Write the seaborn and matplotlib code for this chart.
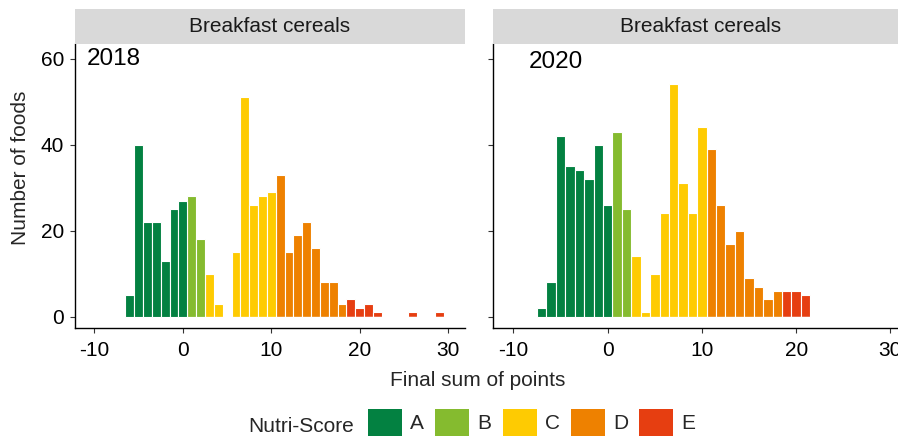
import matplotlib
matplotlib.use("Agg")
import matplotlib.pyplot as plt
import pandas as pd
import seaborn as sns
from matplotlib.patches import Patch

# ---------------- data ----------------
scores_2018 = [-6, -5, -4, -3, -2, -1, 0, 1, 2, 3, 4, 6, 7, 8, 9, 10, 11, 12, 13,
               14, 15, 16, 17, 18, 19, 20, 21, 22, 26, 29]
counts_2018 = [5, 40, 22, 22, 13, 25, 27, 28, 18, 10, 3, 15, 51, 26, 28, 29, 33, 15,
               19, 22, 16, 8, 8, 3, 4, 2, 3, 1, 1, 1]
grades_2018 = list("AAAAAAABBCCCCCCCDDDDDDDDEEEEEE")

scores_2020 = [-7, -6, -5, -4, -3, -2, -1, 0, 1, 2, 3, 4, 5, 6, 7, 8, 9, 10, 11,
               12, 13, 14, 15, 16, 17, 18, 19, 20, 21]
counts_2020 = [2, 8, 42, 35, 34, 32, 40, 26, 43, 25, 14, 1, 10, 24, 54, 31, 24, 44,
               39, 26, 17, 20, 9, 7, 4, 6, 6, 6, 5]
grades_2020 = list("AAAAAAAABBCCCCCCCCDDDDDDDDEEE")

grade_levels = ["A", "B", "C", "D", "E"]
grade_colors = ["#038141", "#85BB2F", "#FECB02", "#EE8100", "#E63E11"]
panel_years = ["2018", "2020"]
strip_label = "Breakfast cereals"
x_ticks = [-10, 0, 10, 20, 30]
y_ticks = [0, 20, 40, 60]
legend_title = "Nutri-Score"
x_title = "Final sum of points"
y_title = "Number of foods"

frames = {
    "2018": pd.DataFrame({"score": scores_2018, "count": counts_2018, "grade": grades_2018}),
    "2020": pd.DataFrame({"score": scores_2020, "count": counts_2020, "grade": grades_2020}),
}
palette = dict(zip(grade_levels, grade_colors))

# ---------------- style ----------------
sns.set_theme(style="ticks")
plt.rcParams["font.family"] = ["Liberation Sans", "DejaVu Sans"]
FS = 15

W, H = 898, 441
fig = plt.figure(figsize=(W / 100, H / 100), dpi=100)


def fx(px):
    return px / W


def fy(py):
    return 1 - py / H


panel_px = [(75, 465), (492.7, 908.3)]
ax_top, ax_bottom = 44, 328.3
strip_top = 9
year_pos = [(-10.9, 59.8), (-8.4, 59.3)]

for i, year in enumerate(panel_years):
    l, r = panel_px[i]
    ax = fig.add_axes([fx(l), fy(ax_bottom), (r - l) / W, (ax_bottom - ax_top) / H])
    sns.histplot(data=frames[year], x="score", weights="count", hue="grade",
                 hue_order=grade_levels, palette=palette, discrete=True,
                 multiple="layer", alpha=1, edgecolor="white", linewidth=0.8,
                 legend=False, ax=ax)
    ax.set_xlim(-12.2, 31.9)
    ax.set_ylim(-2.7, 63.4)
    ax.set_xticks(x_ticks)
    ax.set_xticklabels([str(t) for t in x_ticks])
    ax.set_yticks(y_ticks)
    if i == 0:
        ax.set_yticklabels([str(t) for t in y_ticks])
    else:
        ax.set_yticklabels([])
    ax.set_xlabel("")
    ax.set_ylabel("")
    for s in ["top", "right"]:
        ax.spines[s].set_visible(False)
    for s in ["left", "bottom"]:
        ax.spines[s].set_color("black")
        ax.spines[s].set_linewidth(1.0)
    ax.tick_params(axis="both", direction="out", length=3.8, width=0.8,
                   color="#333333", labelsize=FS, labelcolor="black")
    ax.tick_params(axis="x", pad=5)
    ax.tick_params(axis="y", pad=4)
    ax.set_facecolor("white")
    ax.text(year_pos[i][0], year_pos[i][1], year, fontsize=17.5,
            ha="left", va="center", color="black")

    strip = fig.add_axes([fx(l), fy(ax_top), (r - l) / W, (ax_top - strip_top) / H])
    strip.set_facecolor("#D9D9D9")
    strip.set_xticks([])
    strip.set_yticks([])
    for s in strip.spines.values():
        s.set_visible(False)
    strip.text(0.5, 0.5, strip_label, fontsize=FS, ha="center", va="center",
               transform=strip.transAxes, color="#1a1a1a")

fig.text(fx(477.5), fy(371), x_title, fontsize=FS, ha="center", va="top")
fig.text(fx(20.7), fy(168), y_title, fontsize=FS, ha="center", va="center",
         rotation=90)

handles = [Patch(facecolor=c, edgecolor="none", label=g)
           for g, c in zip(grade_levels, grade_colors)]
fig.legend(handles=handles, ncol=5, loc="upper left",
           bbox_to_anchor=(fx(368), fy(409)), frameon=False, borderpad=0,
           borderaxespad=0, handlelength=1.63, handleheight=1.63,
           handletextpad=0.4, columnspacing=0.53, fontsize=FS)
fig.text(fx(354), fy(427), legend_title, fontsize=FS, ha="right", va="center")

fig.savefig("out.png", dpi=100)
